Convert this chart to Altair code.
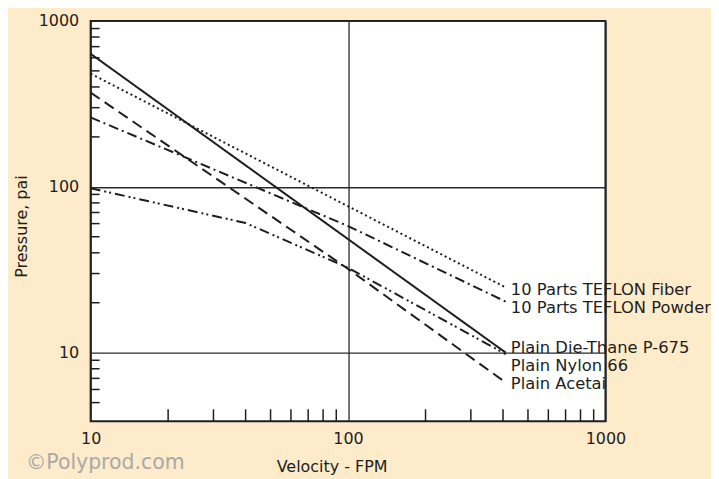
import altair as alt
import pandas as pd

# ---- data ----
series_names = [
    "10 Parts TEFLON Fiber",
    "10 Parts TEFLON Powder",
    "Plain Die-Thane P-675",
    "Plain Nylon 66",
    "Plain Acetai",
]
fiber_x = [10, 410]
fiber_y = [481, 24.7]
powder_x = [10, 100, 410]
powder_y = [262, 58, 20.3]
diethane_x = [10, 410]
diethane_y = [634, 10.0]
nylon_x = [10, 40, 100, 410]
nylon_y = [98, 60.5, 32.5, 9.8]
acetal_x = [10, 100, 410]
acetal_y = [370, 32, 6.6]

label_x = [429, 429, 429, 429, 429]
label_y = [23.7, 18.7, 10.6, 8.3, 6.45]

x_ticks = [10, 100, 1000]
y_ticks = [10, 100, 1000]
x_minor = [20, 30, 40, 50, 60, 70, 80, 90, 200, 300, 400, 500, 600, 700, 800, 900]
y_minor = [5, 6, 7, 8, 9, 20, 30, 40, 50, 60, 70, 80, 90, 200, 300, 400, 500, 600, 700, 800, 900]

rows = []
for name, xs_, ys_ in zip(
    series_names,
    [fiber_x, powder_x, diethane_x, nylon_x, acetal_x],
    [fiber_y, powder_y, diethane_y, nylon_y, acetal_y],
):
    for i, (xv, yv) in enumerate(zip(xs_, ys_)):
        rows.append({"v": xv, "p": yv, "series": name, "o": i})
df = pd.DataFrame(rows)
labels = pd.DataFrame({"v": label_x, "p": label_y, "text": series_names})

FONT = "DejaVu Sans"
INK = "#1e1e1e"

xs = alt.Scale(type="log", domain=[10, 1000], nice=False)
ys = alt.Scale(type="log", domain=[3.86, 1000], nice=False)

X = alt.X("v:Q", scale=xs,
          axis=alt.Axis(values=x_ticks, title="Velocity - FPM", grid=True, ticks=False,
                        domain=False, format="d", labelPadding=9, labelFlush=False,
                        titleX=242, titleY=45, titleBaseline="middle"))
Y = alt.Y("p:Q", scale=ys,
          axis=alt.Axis(values=y_ticks, title="Pressure, pai", grid=True, ticks=False,
                        domain=False, format="d", labelPadding=12,
                        titleX=-69, titleY=206, titleBaseline="middle"))

dashes = [[2, 3], [10, 4, 2, 4], [1, 0], [10, 4, 2, 3, 2, 4], [11, 6]]

lines = alt.Chart(df).mark_line(strokeWidth=2, color=INK).encode(
    x=X,
    y=Y,
    strokeDash=alt.StrokeDash("series:N", scale=alt.Scale(domain=series_names, range=dashes),
                              legend=None),
    detail="series:N",
    order="o:Q",
)

xminor = alt.Chart(pd.DataFrame({"v": x_minor})).mark_rule(color=INK, strokeWidth=1.5).encode(
    x=X,
    y=alt.value(402),
    y2=alt.value(390),
)
yminor = alt.Chart(pd.DataFrame({"p": y_minor})).mark_rule(color=INK, strokeWidth=1.5).encode(
    y=Y,
    x=alt.value(0),
    x2=alt.value(9),
)

text = alt.Chart(labels).mark_text(
    align="left", baseline="middle", font=FONT, fontSize=16.4, color=INK
).encode(
    x=X,
    y=Y,
    text="text:N",
)

mark = alt.Chart(pd.DataFrame({"t": ["©Polyprod.com"]})).mark_text(
    align="left", baseline="middle", font=FONT, fontSize=20.5, color="#a9a9a9"
).encode(x=alt.value(-65), y=alt.value(444), text="t:N")

chart = (
    alt.layer(lines, xminor, yminor, text, mark)
    .properties(
        width=517, height=402,
        autosize=alt.AutoSizeParams(type="none"),
        padding={"left": 83, "top": 12, "right": 106, "bottom": 57},
        background="#fdebc9",
    )
    .configure_view(fill="white", stroke=INK, strokeWidth=2)
    .configure_axis(
        gridColor="#2a2a2a", gridWidth=1.3, gridOpacity=1,
        labelFont=FONT, labelFontSize=16, labelColor=INK,
        titleFont=FONT, titleFontSize=16, titleColor=INK, titleFontWeight="normal",
    )
)

chart.save("out.html", embed_options={"renderer": "svg", "actions": False})
